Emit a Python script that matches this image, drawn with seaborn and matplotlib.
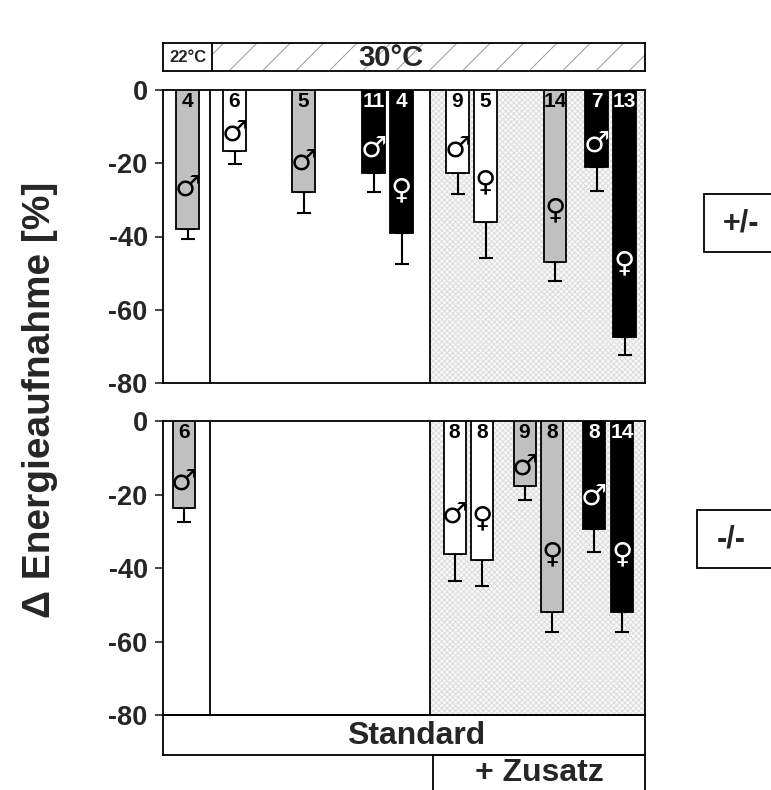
import matplotlib
matplotlib.use("Agg")
import matplotlib.pyplot as plt
from matplotlib.patches import Rectangle
import numpy as np
import pandas as pd
import seaborn as sns

# ---------------- data ----------------
top_group = ["gray", "white", "gray", "black", "black", "white", "white", "gray", "black", "black"]
top_vals = [-38.0, -16.7, -27.9, -22.7, -39.1, -22.7, -36.0, -47.0, -21.0, -67.5]
top_err = [2.6, 3.4, 5.7, 5.2, 8.4, 5.7, 9.9, 5.2, 6.6, 4.9]
top_n = ["4", "6", "5", "11", "4", "9", "5", "14", "7", "13"]
top_sex = ["♂", "♂", "♂", "♂", "♀", "♂", "♀", "♀", "♂", "♀"]

bot_group = ["gray", "white", "white", "gray", "gray", "black", "black"]
bot_vals = [-23.7, -36.2, -37.9, -17.7, -52.0, -29.4, -52.0]
bot_err = [3.8, 7.4, 7.1, 3.8, 5.5, 6.3, 5.5]
bot_n = ["6", "8", "8", "9", "8", "8", "14"]
bot_sex = ["♂", "♂", "♀", "♂", "♀", "♂", "♀"]

y_ticks = [0, -20, -40, -60, -80]
y_label = "Δ Energieaufnahme [%]"
temp_labels = ["22°C", "30°C"]
diet_labels = ["Standard", "+ Zusatz"]
genotype_labels = ["+/-", "-/-"]

# ---------------- layout (slot positions on a 0..482 axis) ----------------
top_pos = [24.5, 71.5, 140.5, 210.5, 238.5, 294.5, 322.5, 392, 433.5, 461.5]
bot_pos = [21, 291.5, 319, 361.5, 389, 431, 459]
X_MAX = 482
DIV_TEMP = 47
DIV_DIET = 267

palette = {"white": "#ffffff", "gray": "#c0c0c0", "black": "#000000"}

sns.set_style("ticks")
plt.rcParams["font.family"] = ["Liberation Sans", "DejaVu Sans"]
plt.rcParams["font.weight"] = "bold"
plt.rcParams["hatch.linewidth"] = 0.7

W, H = 771, 790
fig = plt.figure(figsize=(W / 100, H / 100), dpi=100)


def fbox(x0, y0, x1, y1):
    return [x0 / W, 1 - y1 / H, (x1 - x0) / W, (y1 - y0) / H]


ax_top = fig.add_axes(fbox(163, 90, 645, 383))
ax_bot = fig.add_axes(fbox(163, 421, 645, 715))


def draw_panel(ax, pos, vals, err, groups, ns, sexes):
    df = pd.DataFrame({"pos": pos, "value": vals, "group": groups})
    # shaded "+ Zusatz" region
    ax.add_patch(Rectangle((DIV_DIET, -80), X_MAX - DIV_DIET, 80, facecolor="#f8f8f8",
                           edgecolor="#dcdcdc", linewidth=0, hatch="xxxxxx", zorder=0))
    sns.barplot(data=df, x="pos", y="value", hue="group", palette=palette,
                native_scale=True, dodge=False, edgecolor="black", linewidth=1.3,
                legend=False, errorbar=None, ax=ax, zorder=3)
    ax.errorbar(pos, vals, yerr=[err, [0] * len(err)], fmt="none", ecolor="black",
                elinewidth=1.5, capsize=5, capthick=1.5, zorder=2)
    for xv in (DIV_TEMP, DIV_DIET):
        ax.axvline(xv, color="black", lw=1.3, zorder=1)
    for x, v, g, n, s in zip(pos, vals, groups, ns, sexes):
        c = "white" if g == "black" else "black"
        ax.annotate(n, (x, 0), xytext=(0, -1.5), textcoords="offset points",
                    ha="center", va="top", fontsize=15, fontweight="bold", color=c, zorder=5)
        ax.text(x, 0.7 * v, s, ha="center", va="center", fontsize=21,
                family="DejaVu Sans", fontweight="bold", color=c, zorder=5)
    ax.set_xlim(0, X_MAX)
    ax.set_ylim(-80, 0)
    ax.set_yticks(y_ticks)
    ax.set_yticklabels([str(t) for t in y_ticks], fontsize=19.5, fontweight="bold")
    ax.set_xticks([])
    ax.set_xlabel("")
    ax.set_ylabel("")
    ax.tick_params(axis="y", length=6, width=1.2, direction="out", pad=5)
    for sp in ax.spines.values():
        sp.set_visible(True)
        sp.set_color("black")
        sp.set_linewidth(1.3)


draw_panel(ax_top, top_pos, top_vals, top_err, top_group, top_n, top_sex)
draw_panel(ax_bot, bot_pos, bot_vals, bot_err, bot_group, bot_n, bot_sex)

# header (temperature)
ax_h = fig.add_axes(fbox(163, 43, 645, 71))
ax_h.set_xlim(0, X_MAX)
ax_h.set_ylim(0, 1)
ax_h.add_patch(Rectangle((49, 0), X_MAX - 49, 1, facecolor="white", edgecolor="#999999",
                         linewidth=0, hatch="/", zorder=0))
ax_h.axvline(49, color="black", lw=1.3)
ax_h.text(24.5, 0.5, temp_labels[0], ha="center", va="center", fontsize=12, fontweight="bold")
ax_h.text(228, 0.47, temp_labels[1], ha="center", va="center", fontsize=21, fontweight="bold")

# diet boxes
ax_s = fig.add_axes(fbox(163, 715, 645, 755))
ax_s.text(0.525, 0.47, diet_labels[0], ha="center", va="center", fontsize=23,
          fontweight="bold", transform=ax_s.transAxes)
ax_z = fig.add_axes(fbox(433, 755, 645, 805))
ax_z.text(0.5, 0.64, diet_labels[1], ha="center", va="center", fontsize=23,
          fontweight="bold", transform=ax_z.transAxes)

for a in (ax_h, ax_s, ax_z):
    a.set_xticks([])
    a.set_yticks([])
    a.set_facecolor("none")
    for sp in a.spines.values():
        sp.set_visible(True)
        sp.set_color("black")
        sp.set_linewidth(1.3)

# genotype boxes on the right
for (x0, y0, y1, tx), lab in zip([(704, 194, 252, 723), (697, 510, 568, 717)], genotype_labels):
    fig.patches.append(Rectangle((x0 / W, 1 - y1 / H), 0.2, (y1 - y0) / H,
                                 transform=fig.transFigure, facecolor="white",
                                 edgecolor="black", linewidth=1.3))
    fig.text(tx / W, 1 - (y0 + y1) / 2 / H, lab, ha="left", va="center",
             fontsize=22, fontweight="bold")

fig.text(40 / W, 1 - 400 / H, y_label, rotation=90, ha="center", va="center",
         fontsize=28, fontweight="bold")

fig.savefig("out.png", dpi=100)
